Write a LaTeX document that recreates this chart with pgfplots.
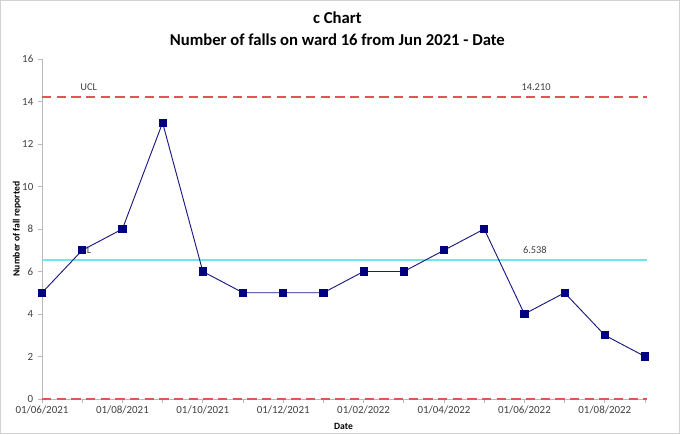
\documentclass[border=0pt]{standalone}
\usepackage{pgfplots}
\pgfplotsset{compat=1.18}
\usepackage{fontspec}
\setmainfont{Carlito}
\definecolor{navyline}{HTML}{1A1A80}
\definecolor{navymark}{HTML}{000080}
\definecolor{uclred}{HTML}{E05555}
\definecolor{clcyan}{HTML}{6FE6EE}
\definecolor{ticktext}{HTML}{404040}
\begin{document}
\begin{tikzpicture}
\draw[gray!35, line width=0.6pt] (0.375pt,-0.375pt) rectangle (509.625pt,-325.125pt);
\path (0pt,0pt) rectangle (510pt,-325.5pt);
\node[font=\bfseries\fontsize{12.5}{14}\selectfont] at (253pt,-13pt) {c Chart};
\node[font=\bfseries\fontsize{12.5}{14}\selectfont] at (253pt,-30pt) {Number of falls on ward 16 from Jun 2021 - Date};
\begin{axis}[
  at={(31.5pt,-299.25pt)}, anchor=south west,
  scale only axis, width=452.25pt, height=255pt,
  xmin=0, xmax=15, ymin=0, ymax=16,
  axis x line=bottom, axis y line=left,
  axis line style={-, draw=gray!55, line width=0.6pt},
  xtick={0,2,...,14}, minor xtick={1,3,...,15},
  xticklabels={01/06/2021,01/08/2021,01/10/2021,01/12/2021,01/02/2022,01/04/2022,01/06/2022,01/08/2022},
  ytick={0,2,...,16},
  tick align=outside, major tick length=3pt, minor tick length=3pt,
  tick style={draw=gray!55, line width=0.5pt},
  ticklabel style={font=\fontsize{8.2}{9}\selectfont, text=ticktext},
  xticklabel style={yshift=1pt},
  /pgf/number format/assume math mode=true,
  xlabel={Date}, ylabel={Number of fall reported},
  xlabel style={font=\bfseries\fontsize{7.2}{8}\selectfont, yshift=0pt},
  ylabel style={font=\bfseries\fontsize{7.2}{8}\selectfont, yshift=-6pt},
  clip=false,
]
\addplot[draw=uclred, line width=1.1pt, dash pattern=on 7pt off 4pt] coordinates {(0,14.210) (15.05,14.210)};
\addplot[draw=uclred, line width=1.1pt, dash pattern=on 7pt off 4pt] coordinates {(0,0) (15.05,0)};
\addplot[draw=clcyan, line width=1.3pt] coordinates {(0,6.538) (15.05,6.538)};
\node[font=\fontsize{7.8}{8}\selectfont, text=ticktext, anchor=south] at (axis cs:1.16,14.3) {UCL};
\node[font=\fontsize{7.8}{8}\selectfont, text=ticktext, anchor=south] at (axis cs:12.29,14.3) {14.210};
\node[font=\fontsize{7.8}{8}\selectfont, text=ticktext, anchor=south] at (axis cs:1.1,6.6) {CL};
\node[font=\fontsize{7.8}{8}\selectfont, text=ticktext, anchor=south] at (axis cs:12.26,6.6) {6.538};
\addplot[draw=navyline, line width=0.7pt, mark=square*, mark size=2.7pt, mark options={fill=navymark, draw=navymark}] coordinates {
(0,5) (1,7) (2,8) (3,13) (4,6) (5,5) (6,5) (7,5) (8,6) (9,6) (10,7) (11,8) (12,4) (13,5) (14,3) (15,2)};
\end{axis}
\end{tikzpicture}
\end{document}
